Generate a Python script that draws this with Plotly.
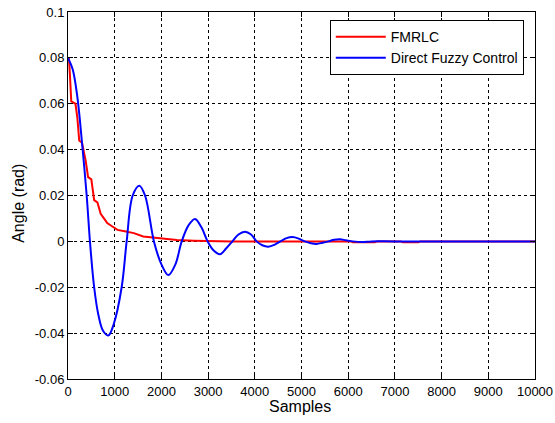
import plotly.graph_objects as go

# FMRLC response (samples, angle in rad)
fmrlc_x = [0, 20, 40, 70, 160, 200, 240, 300, 380, 430, 500, 560, 630, 700, 770, 840, 950,
           1060, 1240, 1410, 1610, 1970, 2330, 2700, 3050, 3500, 6050, 6100, 6570, 6620,
           7120, 7170, 7500, 7550, 10000]
fmrlc_y = [0.080, 0.080, 0.073, 0.061, 0.060, 0.054, 0.044, 0.043, 0.035, 0.028, 0.027, 0.018,
           0.017, 0.012, 0.010, 0.008, 0.0065, 0.005, 0.0043, 0.0036, 0.0021, 0.0012, 0.0006,
           0.0003, 0.0001, 0.0, 0.0, -0.0004, -0.0004, 0.0, 0.0, -0.0004, -0.0004, 0.0, 0.0]

# Direct fuzzy control response
dfc_x = [0, 100, 200, 300, 400, 470, 560, 650, 750, 864, 980, 1149, 1256, 1385, 1527, 1650,
         1840, 2000, 2149, 2300, 2435, 2580, 2720, 2860, 2990, 3120, 3255, 3390, 3520, 3650,
         3790, 3920, 4040, 4160, 4290, 4420, 4550, 4680, 4811, 4940, 5070, 5200, 5325, 5450,
         5575, 5700, 5824, 5950, 6100, 6300, 6500, 7000, 10000]
dfc_y = [0.080, 0.075, 0.063, 0.043, 0.020, 0.000, -0.020, -0.032, -0.039, -0.041, -0.036,
         -0.020, 0.000, 0.020, 0.0243, 0.020, 0.000, -0.010, -0.0147, -0.010, 0.000, 0.007,
         0.0098, 0.006, 0.000, -0.004, -0.0056, -0.003, 0.000, 0.003, 0.0042, 0.003, 0.000,
         -0.0017, -0.0023, -0.0015, 0.000, 0.0014, 0.0019, 0.0012, 0.000, -0.0008, -0.0011,
         -0.0006, 0.000, 0.0007, 0.0009, 0.0005, 0.000, -0.0003, 0.000, 0.000, 0.000]

x_ticks = [0, 1000, 2000, 3000, 4000, 5000, 6000, 7000, 8000, 9000, 10000]
x_labels = ["0", "1000", "2000", "3000", "4000", "5000", "6000", "7000", "8000", "9000", "10000"]
y_ticks = [-0.06, -0.04, -0.02, 0, 0.02, 0.04, 0.06, 0.08, 0.1]
y_labels = ["-0.06", "-0.04", "-0.02", "0", "0.02", "0.04", "0.06", "0.08", "0.1"]

FONT = "Liberation Sans, Arial"
TICKFONT = "Liberation Sans Narrow, Arial Narrow, Liberation Sans"

fig = go.Figure()
fig.add_trace(go.Scatter(x=fmrlc_x, y=fmrlc_y, mode="lines", name="FMRLC",
                         line=dict(color="#ff0000", width=2)))
fig.add_trace(go.Scatter(x=dfc_x, y=dfc_y, mode="lines", name="Direct Fuzzy Control",
                         line=dict(color="#0000ff", width=2, shape="spline", smoothing=1)))

axis_common = dict(showline=True, linecolor="black", linewidth=1, mirror="allticks",
                   ticks="inside", ticklen=5, tickcolor="black", automargin=False,
                   showgrid=True, gridcolor="black", gridwidth=1, griddash="3px,3px",
                   zeroline=False, tickfont=dict(family=TICKFONT, size=13, color="black"))

fig.update_xaxes(range=[0, 10000], tickvals=x_ticks, ticktext=x_labels, **axis_common)
fig.update_yaxes(range=[-0.06, 0.1], tickvals=y_ticks, ticktext=y_labels, **axis_common)

fig.add_annotation(text="Samples", xref="paper", yref="paper", x=0.497, y=-0.074,
                   xanchor="center", yanchor="middle", showarrow=False,
                   font=dict(family=FONT, size=16, color="black"))
fig.add_annotation(text="Angle (rad)", xref="paper", yref="paper", x=-0.105, y=0.48,
                   xanchor="center", yanchor="middle", showarrow=False, textangle=-90,
                   font=dict(family=FONT, size=16, color="black"))

fig.update_layout(
    width=555, height=423,
    margin=dict(l=68, r=20, t=12, b=44, autoexpand=False),
    paper_bgcolor="white", plot_bgcolor="white",
    font=dict(family=FONT, size=12, color="black"),
    legend=dict(x=0.976, y=0.978, xanchor="right", yanchor="top",
                bgcolor="white", bordercolor="black", borderwidth=1,
                font=dict(family=FONT, size=14, color="black"),
                itemwidth=50, tracegroupgap=0),
    showlegend=True,
)

fig.write_html("out.html", config={"displayModeBar": False},
               post_script="document.body.style.margin='0';")
